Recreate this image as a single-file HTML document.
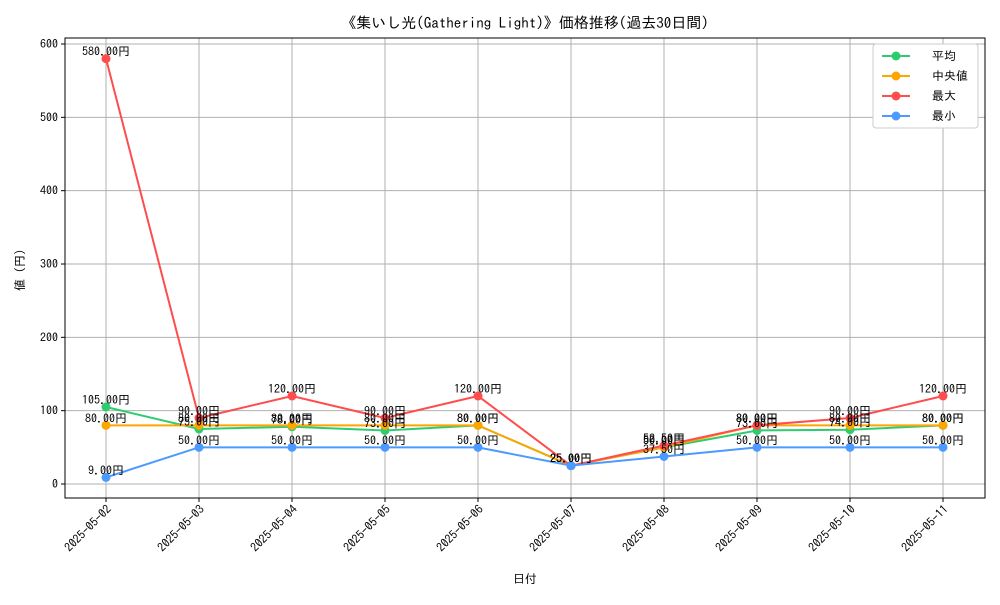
<!DOCTYPE html>
<html><head><meta charset="utf-8"><style>
body{margin:0;background:#fff}
svg{font-family:"IPAGothic","Noto Sans CJK JP","Liberation Mono",monospace}
</style></head><body>
<svg id="c" width="1000" height="600">
<rect width="1000" height="600" fill="#fff"/>
<text x="525" y="28" text-anchor="middle" font-size="15">《集いし光(Gathering Light)》価格推移(過去30日間)</text>
<g id="grid"></g><g id="axes"></g><g id="series"></g>
<text x="525" y="583" text-anchor="middle" font-size="12">日付</text>
<text transform="translate(24,270) rotate(-90)" text-anchor="middle" font-size="12">値 (円)</text>
<g id="legend"></g>
</svg>
<script>
const dates=["2025-05-02","2025-05-03","2025-05-04","2025-05-05","2025-05-06","2025-05-07","2025-05-08","2025-05-09","2025-05-10","2025-05-11"];
const avgVals=[105,75,78,73,80,25,50,73,74,80];
const medVals=[80,80,80,80,80,25,50,80,80,80];
const maxVals=[580,90,120,90,120,25,52.5,80,90,120];
const minVals=[9,50,50,50,50,25,37.5,50,50,50];
const yTicks=[0,100,200,300,400,500,600];
const seriesNames=["平均","中央値","最大","最小"];
const NS="http://www.w3.org/2000/svg";
const L=65,R=985,T=38,B=498;
const x=i=>106+i*(943-106)/(dates.length-1);
const y=v=>484-v*440/600;
function mk(tag,attrs,parent){const e=document.createElementNS(NS,tag);for(const k in attrs)e.setAttribute(k,attrs[k]);parent.appendChild(e);return e;}
const grid=document.getElementById('grid'),axes=document.getElementById('axes'),ser=document.getElementById('series'),leg=document.getElementById('legend');
dates.forEach((d,i)=>{
 const g=mk('line',{x1:x(i),x2:x(i),y1:T,y2:B,stroke:'#b0b0b0','stroke-width':1},grid);
 
 mk('line',{x1:x(i),x2:x(i),y1:B,y2:B+4,stroke:'#000'},axes);
 const t=mk('text',{x:0,y:0,'font-size':12,'text-anchor':'end',transform:`translate(${x(i)+6},${B+12}) rotate(-45)`},axes);
 t.textContent=d;
});
yTicks.forEach(v=>{
 const g=mk('line',{x1:L,x2:R,y1:y(v),y2:y(v),stroke:'#b0b0b0','stroke-width':1},grid);
 
 mk('line',{x1:L-4,x2:L,y1:y(v),y2:y(v),stroke:'#000'},axes);
 const t=mk('text',{x:L-7,y:y(v)+4,'font-size':12,'text-anchor':'end'},axes);
 t.textContent=v;
});
const fr=mk('rect',{x:L,y:T,width:R-L,height:B-T,fill:'none',stroke:'#000'},axes);

const all=[avgVals,medVals,maxVals,minVals],cols=["#2ecc71","#ffa500","#ff4c4c","#4c9aff"];
all.forEach((vals,s)=>{
 const p=mk('polyline',{points:vals.map((v,i)=>x(i)+','+y(v)).join(' '),fill:'none',stroke:cols[s],'stroke-width':2},ser);
 
 vals.forEach((v,i)=>{
  const c=mk('circle',{cx:x(i),cy:y(v),r:4.5,fill:cols[s]},ser);
  
 });
});
all.forEach((vals,s)=>vals.forEach((v,i)=>{
  const t=mk('text',{x:x(i),y:y(v)-3,'font-size':12,'text-anchor':'middle'},ser);
  t.textContent=v.toFixed(2)+'円';
}));
const lb=mk('rect',{x:873,y:44,width:105,height:84,fill:'#fff',stroke:'#ccc',rx:3},leg);

seriesNames.forEach((n,s)=>{
 const yy=56+s*20;
 mk('line',{x1:882,x2:910,y1:yy,y2:yy,stroke:cols[s],'stroke-width':2},leg);
 mk('circle',{cx:896,cy:yy,r:4.5,fill:cols[s]},leg);
 const t=mk('text',{x:932,y:yy+4,'font-size':12},leg);
 t.textContent=n;
});
</script>
</body></html>
